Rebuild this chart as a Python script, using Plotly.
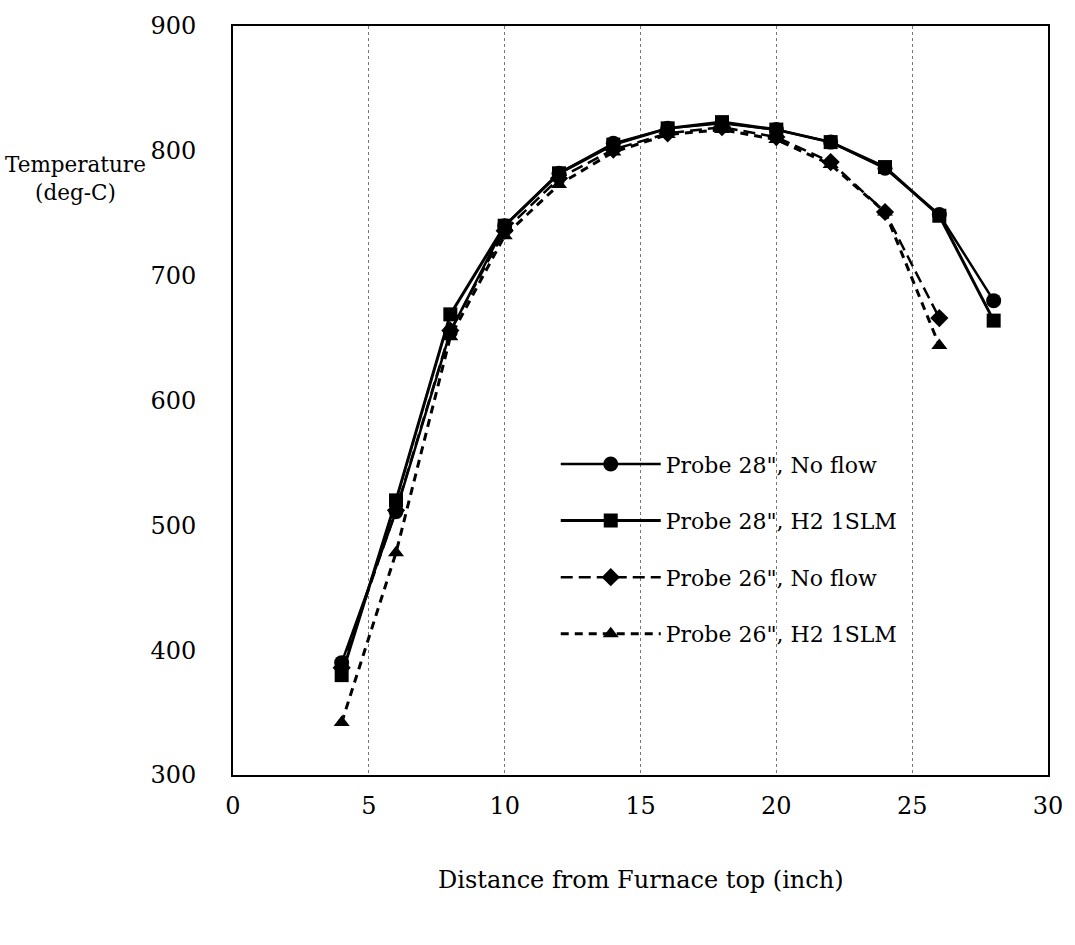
import plotly.graph_objects as go

distance = [4, 6, 8, 10, 12, 14, 16, 18, 20, 22, 24, 26, 28]
distance_26 = [4, 6, 8, 10, 12, 14, 16, 18, 20, 22, 24, 26]

p28_noflow = [390, 511, 655, 740, 782, 806, 818, 822, 817, 807, 786, 749, 680]
p28_h2 = [380, 520, 669, 740, 782, 805, 818, 823, 817, 807, 787, 748, 664]
p26_noflow = [386, 512, 656, 736, 778, 801, 814, 819, 811, 791, 751, 666]
p26_h2 = [342, 478, 651, 732, 773, 799, 813, 817, 809, 789, 751, 644]

x_ticks = [0, 5, 10, 15, 20, 25, 30]
y_ticks = [300, 400, 500, 600, 700, 800, 900]

FONT = "DejaVu Serif"

fig = go.Figure()
fig.add_trace(go.Scatter(x=distance, y=p28_noflow, name='Probe 28", No flow',
                         mode="lines+markers", legendgroup="a",
                         line=dict(color="black", width=2.5),
                         marker=dict(symbol="circle", size=15, color="black")))
fig.add_trace(go.Scatter(x=distance, y=p28_h2, name='Probe 28", H2 1SLM',
                         mode="lines+markers", legendgroup="b",
                         line=dict(color="black", width=3),
                         marker=dict(symbol="square", size=14, color="black")))
fig.add_trace(go.Scatter(x=distance_26, y=p26_noflow, name='Probe 26", No flow',
                         mode="lines+markers", legendgroup="c",
                         line=dict(color="black", width=2.5, dash="12px,6px"),
                         marker=dict(symbol="diamond", size=14, color="black")))
fig.add_trace(go.Scatter(x=distance_26, y=p26_h2, name='Probe 26", H2 1SLM',
                         mode="lines+markers", legendgroup="d",
                         line=dict(color="black", width=3, dash="8px,6px"),
                         marker=dict(symbol="triangle-up", size=14, color="black")))

fig.update_layout(
    width=1075, height=945,
    margin=dict(l=233, r=22, t=24, b=170),
    paper_bgcolor="white", plot_bgcolor="white",
    font=dict(family=FONT, size=24, color="black"),
    showlegend=True,
    legend=dict(x=0.396, y=0.443, xanchor="left", yanchor="top",
                bgcolor="rgba(0,0,0,0)", font=dict(family=FONT, size=22),
                itemwidth=100, tracegroupgap=25, traceorder="grouped"),
    xaxis=dict(range=[0, 30], tickvals=x_ticks, showgrid=True,
               gridcolor="#777", griddash="dot", gridwidth=1,
               showline=True, mirror=True, linecolor="black", linewidth=2,
               ticks="", ticklabelstandoff=8, zeroline=False,
               tickfont=dict(size=24)),
    yaxis=dict(range=[300, 900], tickvals=y_ticks, showgrid=False,
               showline=True, mirror=True, linecolor="black", linewidth=2,
               ticks="", ticklabelstandoff=30, zeroline=False,
               tickfont=dict(size=24)),
    annotations=[
        dict(text="Temperature<br>(deg-C)", xref="paper", yref="paper",
             x=-0.193, y=0.797, xanchor="center", yanchor="middle",
             showarrow=False, font=dict(size=21.5), align="center"),
        dict(text="Distance from Furnace top (inch)", xref="paper", yref="paper",
             x=0.5, y=-0.119, xanchor="center", yanchor="top",
             showarrow=False, font=dict(size=24)),
    ],
)

fig.write_html("out.html")
